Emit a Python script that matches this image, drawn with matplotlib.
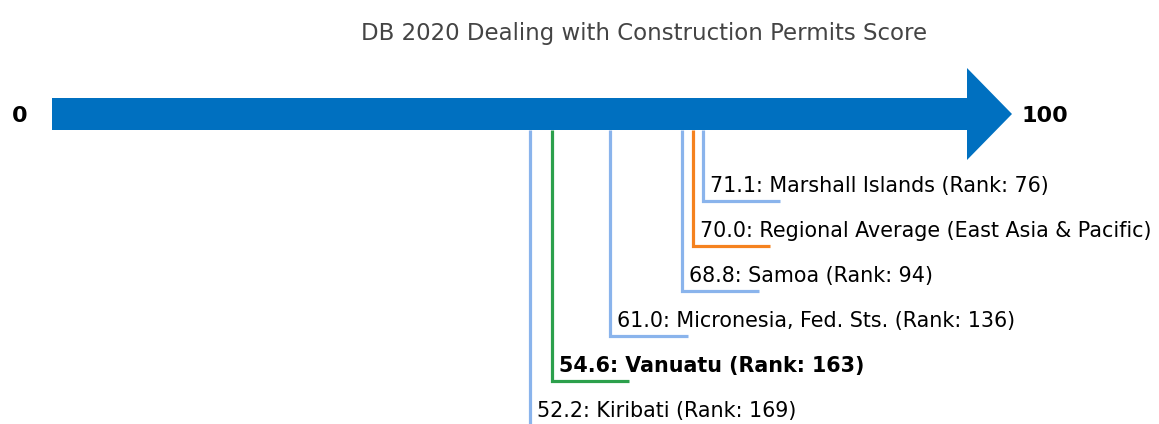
import matplotlib
matplotlib.use('Agg')
import matplotlib.pyplot as plt
from matplotlib.patches import FancyArrow

plt.rcParams['font.family'] = ['DejaVu Sans']

# scores and labels, top label first
economies = ['Marshall Islands', 'Regional Average (East Asia & Pacific)', 'Samoa',
             'Micronesia, Fed. Sts.', 'Vanuatu', 'Kiribati']
scores = [71.1, 70.0, 68.8, 61.0, 54.6, 52.2]
ranks = [76, None, 94, 136, 163, 169]
kinds = ['other', 'region', 'other', 'other', 'main', 'other']

colors = {'other': '#8ab4ec', 'region': '#f5821f', 'main': '#2ca04c'}

fig = plt.figure(figsize=(11.59, 4.24), dpi=100)
ax = fig.add_axes([0, 0, 1, 1])
px = 9.15  # pixels per score unit
ax.set_xlim(-52 / px, (1159 - 52) / px)
ax.set_ylim(424, 0)
ax.axis('off')

# the big arrow from 0 to 100
head = 45 / px
ax.add_patch(FancyArrow(0, 114, 100 + head, 0, width=32, head_width=92,
                        head_length=head, length_includes_head=True,
                        color='#0070c0', linewidth=0))
ax.text(-3.5, 116, '0', ha='center', va='center', fontsize=16, fontweight='bold')
ax.text(100 + head + 1.0, 116, '100', ha='left', va='center', fontsize=16, fontweight='bold')

fig.text(0.556, 0.922, 'DB 2020 Dealing with Construction Permits Score',
         ha='center', va='center', fontsize=16.5, color='#444444')

for i, (name, s, r, k) in enumerate(zip(economies, scores, ranks, kinds)):
    y_end = 201 + i * 45
    c = colors[k]
    ax.plot([s, s, s + 8.5], [130, y_end, y_end], color=c, lw=2.3,
            solid_joinstyle='miter', solid_capstyle='butt')
    if r is None:
        label = f'{s:.1f}: {name}'
    else:
        label = f'{s:.1f}: {name} (Rank: {r})'
    ax.text(s + 0.8, y_end - 15, label, ha='left', va='center', fontsize=14.9,
            fontweight='bold' if k == 'main' else 'normal')

fig.savefig('out.png', dpi=100)
